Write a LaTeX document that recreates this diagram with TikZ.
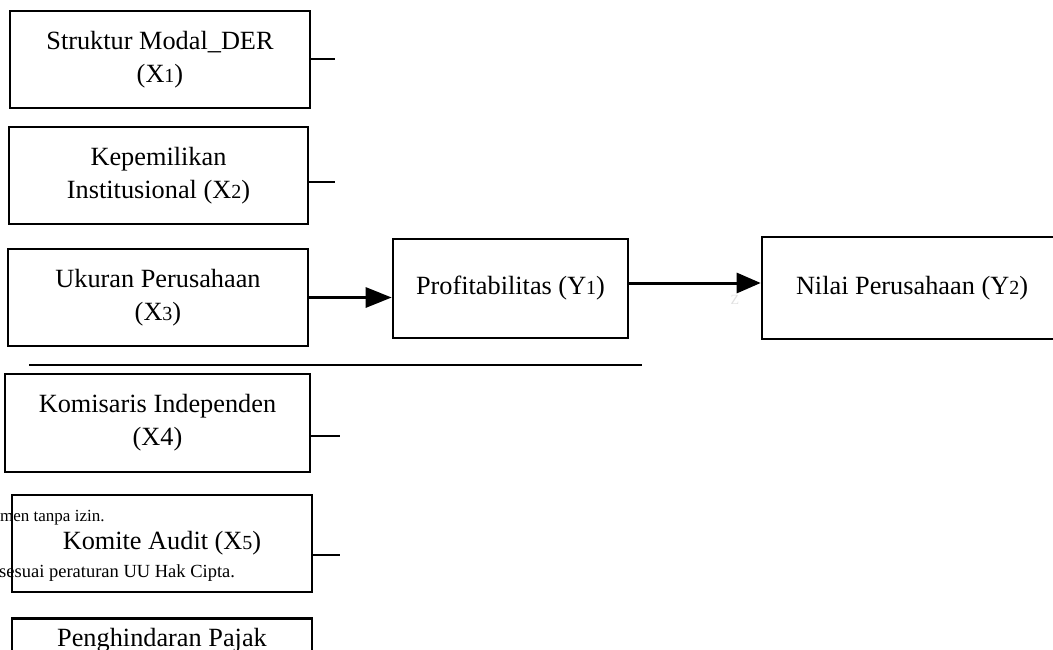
\documentclass[tikz,border=0pt]{standalone}
\usepackage{fontspec}
\setmainfont{Liberation Serif}
\usetikzlibrary{arrows.meta}
\newcommand{\idx}[1]{{\fontsize{20}{20}\selectfont #1}}
\tikzset{
  varbox/.style={draw, line width=2.6pt, minimum width=300pt, minimum height=97pt, align=center,
    font=\fontsize{26.3}{33}\selectfont, inner sep=0pt},
  note/.style={font=\fontsize{18.5}{18.5}\selectfont, inner sep=0pt}
}
\begin{document}
\begin{tikzpicture}[x=1pt,y=-1pt]
        \clip (0,0) rectangle (1053,650);
        \useasboundingbox (0,0) rectangle (1053,650);

        \node[note, anchor=west, font=\fontsize{17}{17}\selectfont] (n1) at (0,518) {men tanpa izin.};
        \node[note, anchor=west] (n2) at (-1,573) {sesuai peraturan UU Hak Cipta.};

        \node[varbox] (x1) at (160,59.5) {Struktur Modal\_DER\\(X\idx{1})};
        \node[varbox, minimum width=299pt] (x2) at (158.5,175.5) {Kepemilikan\\Institusional (X\idx{2})};
        \node[varbox] (x3) at (158,297.5) {Ukuran Perusahaan\\(X\idx{3})};
        \node[varbox, minimum width=305pt, minimum height=98pt] (x4) at (157.5,423) {Komisaris Independen\\(X4)};
        \node[varbox] (x5) at (162,543.5) {Komite Audit (X\idx{5})};
        \node[varbox, anchor=north] (x6) at (162,617) {};
        \node[font=\fontsize{26.3}{33}\selectfont, inner sep=0pt] (x6t) at (162,640) {Penghindaran Pajak};

        \node[varbox, minimum width=235pt, minimum height=99pt] (y1) at (510.5,288.5) {Profitabilitas (Y\idx{1})};
        \node[varbox, minimum height=102pt] (y2) at (912,288) {Nilai Perusahaan (Y\idx{2})};

        \node[font=\fontsize{14}{14}\selectfont, text=black!12] (wm) at (735,300) {Z};

        \coordinate (l1) at (335,59);
        \coordinate (l2) at (335,182);
        \coordinate (l4) at (340,436);
        \coordinate (l5) at (340,555);
        \coordinate (h1) at (29,365);
        \coordinate (h2) at (642,365);

        \begin{scope}[every path/.style={line width=2.2pt}]
        \draw (x1.east |- l1) -- (l1);
        \draw (x2.east |- l2) -- (l2);
        \draw (x4.east |- l4) -- (l4);
        \draw (x5.east |- l5) -- (l5);
        \draw[line width=1.6pt] (h1) -- (h2);
        \draw[line width=3pt, -{Triangle[length=26pt,width=20pt]}] (x3.east) -- (x3.east -| y1.west);
        \draw[line width=3pt, -{Triangle[length=24pt,width=20pt]}] ([yshift=5.5pt]y1.east) -- ([yshift=5.5pt]y1.east -| y2.west);
        \end{scope}

        \end{tikzpicture}
\end{document}
